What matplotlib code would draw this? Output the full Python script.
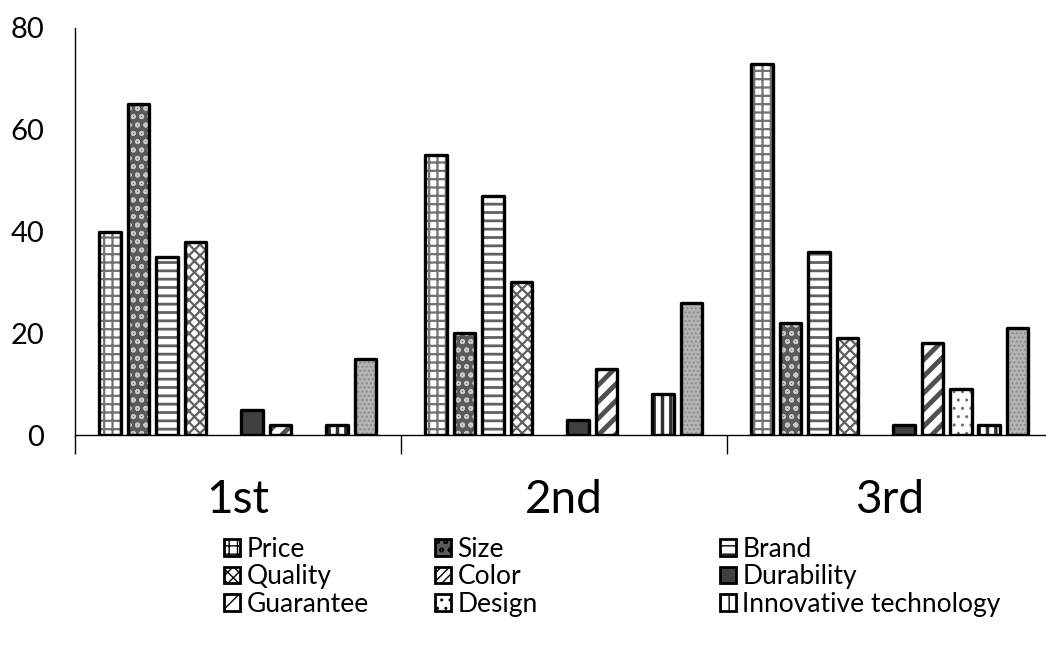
import matplotlib.pyplot as plt
from matplotlib.patches import Patch
import numpy as np

plt.rcParams['font.family'] = ['Lato', 'DejaVu Sans']

groups = ['1st', '2nd', '3rd']
series = ['Price', 'Size', 'Brand', 'Quality', 'Color', 'Durability',
          'Guarantee', 'Design', 'Innovative technology', 'Other']

price = [40, 55, 73]
size = [65, 20, 22]
brand = [35, 47, 36]
quality = [38, 30, 19]
color = [0, 0, 0]
durability = [5, 3, 2]
guarantee = [2, 13, 18]
design = [0, 0, 9]
innovative = [2, 8, 2]
other = [15, 26, 21]

values = [price, size, brand, quality, color, durability,
          guarantee, design, innovative, other]

# face colour, hatch, hatch colour, hatch line width
styles = [
    ('white', '++', '#707070', 1.6),
    ('#5a5a5a', 'oo', '#c8c8c8', 1.2),
    ('white', '--', '#606060', 2.0),
    ('white', 'xxx', '#606060', 1.6),
    ('white', '////', '#808080', 1.2),
    ('#404040', '', '#404040', 1.0),
    ('white', '//', '#505050', 3.5),
    ('white', '..', '#707070', 1.0),
    ('white', '||', '#303030', 2.5),
    ('#b4b4b4', '....', '#8a8a8a', 1.0),
]

fig = plt.figure(figsize=(10.46, 6.53), dpi=100)
ax = fig.add_axes([75 / 1046, 218 / 653, 978 / 1046, 407 / 653])

x = np.arange(len(groups))
width = 0.066
for j, vals in enumerate(values):
    fc, hatch, hc, hlw = styles[j]
    vals = np.array(vals, dtype=float)
    pos = x + 0.108 + j * 0.087
    keep = vals > 0
    if not keep.any():
        continue
    with plt.rc_context({'hatch.linewidth': hlw}):
        bars = ax.bar(pos[keep], vals[keep], width, color=fc, hatch=hatch,
                      edgecolor=hc, linewidth=0)
    for b in bars:
        if hasattr(b, 'set_hatch_linewidth'):
            b.set_hatch_linewidth(hlw)
    ax.bar(pos[keep], vals[keep], width, fill=False, edgecolor='black',
           linewidth=2.4, joinstyle='round')

ax.set_xlim(0, 3)
ax.set_ylim(0, 80)
ax.set_yticks([0, 20, 40, 60, 80])
ax.tick_params(axis='y', length=0, pad=22, labelsize=21)
ax.set_xticks([0, 1, 2, 3])
ax.set_xticklabels([])
ax.tick_params(axis='x', which='major', length=14, width=1, direction='out')
ax.set_xticks(x + 0.5, minor=True)
ax.set_xticklabels(groups, minor=True, fontsize=33)
ax.tick_params(axis='x', which='minor', length=0, pad=32)

for side in ['top', 'right']:
    ax.spines[side].set_visible(False)
ax.spines['left'].set_linewidth(1)
ax.spines['bottom'].set_linewidth(1)


def handle(j):
    fc, hatch, hc, hlw = styles[j]
    p = Patch(facecolor=fc, hatch=hatch, edgecolor='black', linewidth=2)
    return p


legend_cols = [[0, 3, 6], [1, 4, 7], [2, 5, 8]]
col_x = [224, 435, 720]
for col, lx in zip(legend_cols, col_x):
    with plt.rc_context({'hatch.linewidth': 1.0}):
        fig.legend([handle(j) for j in col], [series[j] for j in col],
                   loc='upper left', bbox_to_anchor=(lx / 1046, 1 - 537 / 653),
                   frameon=False, fontsize=19, handlelength=0.6,
                   handleheight=0.6, handletextpad=0.25, labelspacing=0.09,
                   borderpad=0, borderaxespad=0)

fig.savefig('out.png', dpi=100)
